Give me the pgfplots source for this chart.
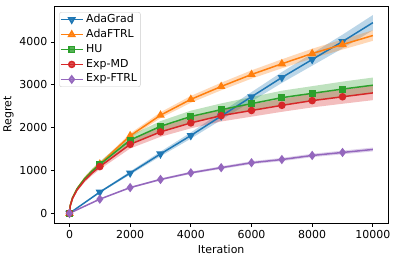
\documentclass[border=0pt]{standalone}
\usepackage{fontspec}
\setmainfont{DejaVu Sans}
\usepackage{pgfplots}
\usepackage{pgfplotstable}
\pgfplotsset{compat=1.18}
\usepgfplotslibrary{fillbetween}
\definecolor{cB}{HTML}{1F77B4}
\definecolor{cO}{HTML}{FF7F0E}
\definecolor{cG}{HTML}{2CA02C}
\definecolor{cR}{HTML}{D62728}
\definecolor{cP}{HTML}{9467BD}
\pgfplotstableread{
x m lo hi
0 0 0 0
1000 495 475 515
2000 940 902 978
3000 1385 1330 1440
4000 1815 1742 1888
5000 2270 2179 2361
6000 2720 2611 2829
7000 3170 3043 3297
8000 3590 3446 3734
9000 4010 3850 4170
10000 4450 4272 4628
}\adagrad
\pgfplotstableread{
x m lo hi
0 0 0 0
25 182 177 187
100 364 353 375
250 575 558 592
500 813 789 837
750 996 966 1026
1000 1150 1116 1184
2000 1810 1756 1864
3000 2290 2221 2359
4000 2660 2580 2740
5000 2960 2871 3049
6000 3240 3143 3337
7000 3490 3385 3595
8000 3730 3618 3842
9000 3940 3822 4058
10000 4150 4026 4274
}\adaftrl
\pgfplotstableread{
x m lo hi
0 0 0 0
25 180 169 191
100 360 338 382
250 570 536 604
500 806 758 854
750 987 928 1046
1000 1140 1072 1208
2000 1710 1607 1813
3000 2030 1908 2152
4000 2260 2124 2396
5000 2420 2275 2565
6000 2560 2406 2714
7000 2700 2538 2862
8000 2800 2632 2968
9000 2900 2726 3074
10000 2990 2811 3169
}\hu
\pgfplotstableread{
x m lo hi
0 0 0 0
25 172 162 182
100 345 324 366
250 545 512 578
500 771 725 817
750 944 887 1001
1000 1090 1025 1155
2000 1610 1513 1707
3000 1900 1786 2014
4000 2110 1983 2237
5000 2280 2143 2417
6000 2400 2256 2544
7000 2520 2369 2671
8000 2630 2472 2788
9000 2720 2557 2883
10000 2810 2641 2979
}\expmd
\pgfplotstableread{
x m lo hi
0 0 0 0
1000 330 320 340
2000 600 582 618
3000 790 766 814
4000 945 917 973
5000 1065 1033 1097
6000 1180 1145 1215
7000 1255 1217 1293
8000 1350 1310 1390
9000 1420 1377 1463
10000 1490 1445 1535
}\expftrl
\begin{document}
\begin{tikzpicture}
\begin{axis}[
  at={(0,0)}, anchor=south west,
  scale only axis, width=335pt, height=218pt,
  xmin=-500, xmax=10500, ymin=-230, ymax=4840,
  xtick={0,2000,4000,6000,8000,10000},
  ytick={0,1000,2000,3000,4000},
  scaled ticks=false,
  /pgf/number format/assume math mode=true,
  /pgf/number format/1000 sep={},
  tick align=outside, tick pos=left,
  major tick length=3.5pt,
  every tick/.style={black, line width=0.8pt},
  axis line style={black, line width=0.8pt},
  tick label style={font=\fontsize{11}{13}\selectfont},
  label style={font=\fontsize{11}{13}\selectfont},
  xlabel={Iteration}, ylabel={Regret},
  ylabel style={yshift=-1pt},
  legend style={at={(0.015,0.972)}, anchor=north west, draw=black!20, rounded corners=2pt,
    fill=white, fill opacity=0.8, text opacity=1, font=\fontsize{11}{13}\selectfont,
    row sep=1.2pt, inner sep=0.5pt,
    nodes={inner xsep=2.8pt, inner ysep=1.5pt, text height=8pt, text depth=2.8pt}},
  legend cell align=left,
  legend image code/.code={\draw[mark indices={2}] plot coordinates {(0pt,0pt)(11pt,0pt)(22pt,0pt)};},
]
% bands
\addplot[name path=b1, draw=none, forget plot] table[x=x,y=lo]{\adagrad};
\addplot[name path=b2, draw=none, forget plot] table[x=x,y=hi]{\adagrad};
\addplot[cB, fill opacity=0.3, draw=none, forget plot] fill between[of=b1 and b2];
\addplot[name path=o1, draw=none, forget plot] table[x=x,y=lo]{\adaftrl};
\addplot[name path=o2, draw=none, forget plot] table[x=x,y=hi]{\adaftrl};
\addplot[cO, fill opacity=0.3, draw=none, forget plot] fill between[of=o1 and o2];
\addplot[name path=g1, draw=none, forget plot] table[x=x,y=lo]{\hu};
\addplot[name path=g2, draw=none, forget plot] table[x=x,y=hi]{\hu};
\addplot[cG, fill opacity=0.3, draw=none, forget plot] fill between[of=g1 and g2];
\addplot[name path=r1, draw=none, forget plot] table[x=x,y=lo]{\expmd};
\addplot[name path=r2, draw=none, forget plot] table[x=x,y=hi]{\expmd};
\addplot[cR, fill opacity=0.3, draw=none, forget plot] fill between[of=r1 and r2];
\addplot[name path=p1, draw=none, forget plot] table[x=x,y=lo]{\expftrl};
\addplot[name path=p2, draw=none, forget plot] table[x=x,y=hi]{\expftrl};
\addplot[cP, fill opacity=0.3, draw=none, forget plot] fill between[of=p1 and p2];
% lines
\addplot[cB, line width=1.5pt, mark=triangle*, mark size=3.5pt, mark indices={1,...,10}, mark options={rotate=180, solid}] table[x=x,y=m]{\adagrad};
\addlegendentry{AdaGrad}
\addplot[cO, line width=1.5pt, mark=triangle*, mark size=3.5pt, mark indices={1,7,8,9,10,11,12,13,14,15}, mark options={solid}] table[x=x,y=m]{\adaftrl};
\addlegendentry{AdaFTRL}
\addplot[cG, line width=1.5pt, mark=square*, mark size=2.8pt, mark indices={1,7,8,9,10,11,12,13,14,15}, mark options={solid}] table[x=x,y=m]{\hu};
\addlegendentry{HU}
\addplot[cR, line width=1.5pt, mark=*, mark size=3pt, mark indices={1,7,8,9,10,11,12,13,14,15}, mark options={solid}] table[x=x,y=m]{\expmd};
\addlegendentry{Exp-MD}
\addplot[cP, line width=1.5pt, mark=diamond*, mark size=3.5pt, mark indices={1,...,10}, mark options={solid}] table[x=x,y=m]{\expftrl};
\addlegendentry{Exp-FTRL}
\end{axis}
\path (-53pt,-38pt) rectangle (342pt,224pt);
\end{tikzpicture}
\end{document}
